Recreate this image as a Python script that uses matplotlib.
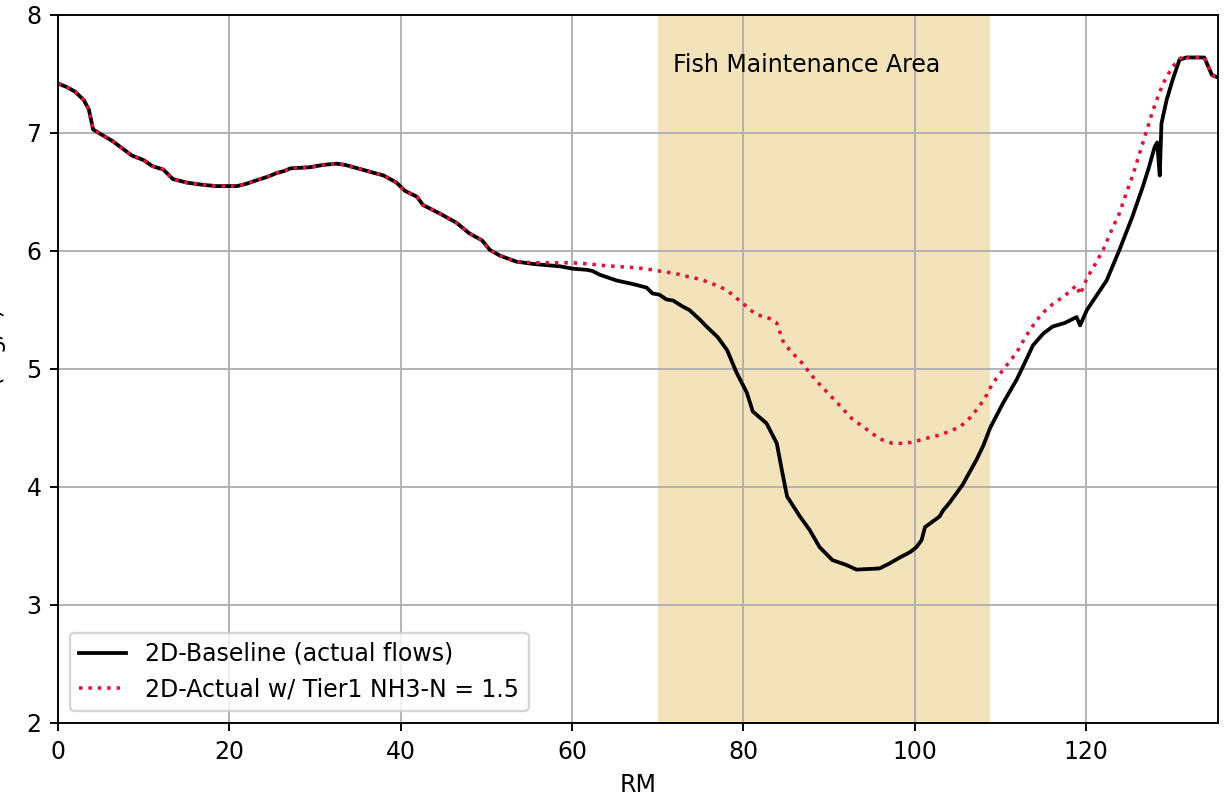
import numpy as np
import matplotlib
matplotlib.use("Agg")
import matplotlib.pyplot as plt

# River mile / dissolved oxygen profile, baseline run
rm_base = [0, 1, 2, 3, 3.6, 4.1, 5, 6.4, 7.5, 8.6, 10, 11, 12.3, 13.4, 15, 17,
           18.5, 20.9, 22, 23.2, 24.5, 25.5, 26.5, 27.1, 29.4, 31, 32.5, 33.5,
           35, 36.5, 38, 39.5, 40.5, 41.9, 42.6, 44.5, 46.5, 48, 49.5, 50.4,
           51.6, 53.5, 55.5, 58.6, 60.1, 61.8, 62.4, 63.2, 65.2, 67.1, 68.7,
           69.4, 70.2, 71.0, 71.8, 72.9, 73.7, 74.9, 75.7, 77, 78.1, 79.2,
           80.4, 81.1, 82.7, 83.9, 84.5, 85.1, 86.6, 87.7, 88.9, 90.4, 91.2,
           92, 93.2, 95.9, 97, 98.2, 99.5, 100.2, 100.8, 101.2, 102.9, 103.3,
           104.1, 105.6, 107.2, 108.0, 108.8, 110.3, 111.9, 112.5, 113.8, 115,
           116.1, 117.5, 118.9, 119.3, 120.1, 121.2, 122.4, 123.9, 125.4,
           126.6, 127.3, 128.0, 128.3, 128.6, 128.8, 129.4, 130.1, 130.9,
           131.7, 133.8, 134.7, 135.4]
do_base = [7.42, 7.39, 7.35, 7.28, 7.20, 7.03, 6.99, 6.93, 6.87, 6.81, 6.77,
           6.72, 6.69, 6.61, 6.58, 6.56, 6.55, 6.55, 6.57, 6.60, 6.63, 6.66,
           6.68, 6.70, 6.71, 6.73, 6.74, 6.73, 6.70, 6.67, 6.64, 6.58, 6.51,
           6.46, 6.39, 6.32, 6.24, 6.15, 6.09, 6.01, 5.96, 5.91, 5.89, 5.87,
           5.85, 5.84, 5.83, 5.80, 5.75, 5.72, 5.69, 5.64, 5.63, 5.59, 5.58,
           5.53, 5.50, 5.42, 5.36, 5.27, 5.16, 4.97, 4.80, 4.64, 4.54, 4.37,
           4.14, 3.92, 3.75, 3.64, 3.49, 3.38, 3.36, 3.34, 3.30, 3.31, 3.35,
           3.40, 3.45, 3.49, 3.55, 3.66, 3.75, 3.80, 3.87, 4.02, 4.23, 4.35,
           4.50, 4.71, 4.91, 5.00, 5.20, 5.30, 5.36, 5.39, 5.44, 5.37, 5.50,
           5.62, 5.75, 6.01, 6.29, 6.54, 6.70, 6.88, 6.92, 6.64, 7.08, 7.28,
           7.45, 7.62, 7.64, 7.64, 7.49, 7.47]

# Tier1 NH3-N scenario
rm_tier = [0, 1, 2, 3, 3.6, 4.1, 5, 6.4, 7.5, 8.6, 10, 11, 12.3, 13.4, 15, 17,
           18.5, 20.9, 22, 23.2, 24.5, 25.5, 26.5, 27.1, 29.4, 31, 32.5, 33.5,
           35, 36.5, 38, 39.5, 40.5, 41.9, 42.6, 44.5, 46.5, 48, 49.5, 50.4,
           51.6, 53.5, 55.5, 58, 60.1, 62, 63.2, 65, 67.1, 68.5, 70.2, 72,
           73.7, 75, 76.1, 77.2, 78.2, 79.2, 79.9, 80.8, 81.6, 83, 83.9, 84.6,
           85.4, 86.2, 87.0, 87.7, 88.5, 89.3, 90.2, 91.0, 92, 92.8, 94, 95.1,
           96.2, 97.4, 98.6, 99.8, 101.2, 102.9, 104, 105.3, 106.5, 107.6,
           108.4, 109.1, 110.5, 111.9, 113, 114.2, 115.0, 116.1, 117.5, 118.9,
           119.3, 120.1, 121, 122.0, 123.0, 123.9, 124.6, 125.4, 126.0, 126.6,
           127.2, 127.8, 128.4, 129.0, 129.6, 130.1, 130.8, 131.5, 131.7,
           133.8, 134.7, 135.4]
do_tier = [7.42, 7.39, 7.35, 7.28, 7.20, 7.03, 6.99, 6.93, 6.87, 6.81, 6.77,
           6.72, 6.69, 6.61, 6.58, 6.56, 6.55, 6.55, 6.57, 6.60, 6.63, 6.66,
           6.68, 6.70, 6.71, 6.73, 6.74, 6.73, 6.70, 6.67, 6.64, 6.58, 6.51,
           6.46, 6.39, 6.32, 6.24, 6.15, 6.09, 6.01, 5.96, 5.91, 5.90, 5.90,
           5.90, 5.89, 5.88, 5.87, 5.86, 5.85, 5.83, 5.81, 5.78, 5.76, 5.73,
           5.70, 5.66, 5.60, 5.56, 5.50, 5.46, 5.43, 5.39, 5.24, 5.16, 5.10,
           5.04, 4.97, 4.90, 4.84, 4.77, 4.71, 4.63, 4.57, 4.51, 4.45, 4.40,
           4.37, 4.37, 4.38, 4.41, 4.44, 4.47, 4.51, 4.59, 4.69, 4.78, 4.88,
           5.01, 5.14, 5.28, 5.41, 5.48, 5.55, 5.62, 5.71, 5.63, 5.77, 5.88,
           6.01, 6.18, 6.32, 6.47, 6.63, 6.77, 6.91, 7.05, 7.19, 7.31, 7.42,
           7.50, 7.56, 7.62, 7.66, 7.64, 7.64, 7.49, 7.47]

fma_start, fma_end = 70.0, 108.8

fig, ax = plt.subplots(figsize=(1226 / 170, 802 / 170), dpi=170)
fig.subplots_adjust(left=58 / 1226, right=1218 / 1226, top=1 - 15 / 802, bottom=1 - 723 / 802)

ax.axvspan(fma_start, fma_end, color="goldenrod", alpha=0.3, lw=0)
ax.text(fma_start + 1.8, 7.58, "Fish Maintenance Area",
        ha="left", va="center", fontsize=10)

ax.plot(rm_base, do_base, color="black", lw=1.6, label="2D-Baseline (actual flows)")
ax.plot(rm_tier, do_tier, color="crimson", lw=1.5, ls=":",
        label="2D-Actual w/ Tier1 NH3-N = 1.5")

ax.set_xlim(0, rm_base[-1])
ax.set_ylim(2, 8)
ax.grid(True)
ax.set_xlabel("RM")
ax.set_ylabel("DO (mg/L)")
ax.yaxis.set_label_coords(-52 / 1160, 0.5)
ax.legend(loc="lower left")

fig.savefig("out.png", dpi=170)
